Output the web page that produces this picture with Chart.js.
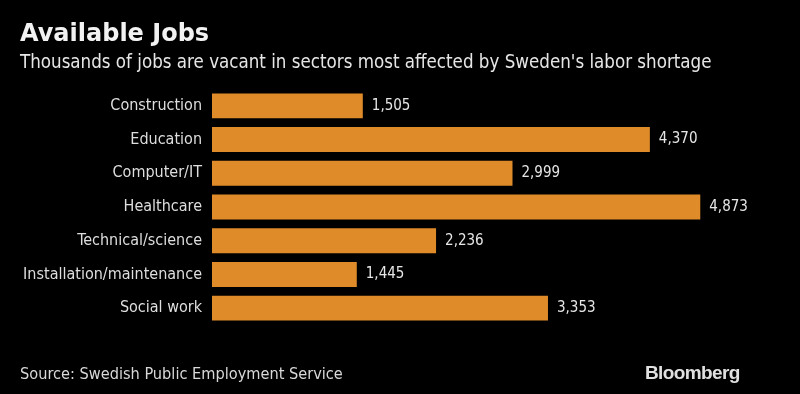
<!DOCTYPE html>
<html>
<head>
<meta charset="utf-8">
<script src="https://cdn.jsdelivr.net/npm/chart.js@4"></script>
<style>
  html, body { margin: 0; padding: 0; background: #000; }
  #wrap { position: relative; width: 800px; height: 394px; background: #000; overflow: hidden; }
  #chart { position: absolute; left: 0; top: 0; }
  .txt { position: absolute; color: #e6e6e6; white-space: nowrap; font-family: "DejaVu Sans Condensed", "DejaVu Sans", sans-serif; }
  #title { left: 20px; top: 19px; font-size: 24px; font-weight: bold; font-family: "DejaVu Sans", sans-serif; color: #f2f2f2; }
  #subtitle { left: 20px; top: 51px; font-size: 18.6px; }
  #source { left: 20px; top: 364px; font-size: 16.2px; color: #d8d8d8; }
  #logo { left: 645px; top: 362px; font-size: 19px; font-weight: bold; font-family: "Liberation Sans", Arial, sans-serif; color: #e0e0e0; letter-spacing: -0.6px; }
</style>
</head>
<body>
<div id="wrap">
  <canvas id="chart" width="800" height="394"></canvas>
  <div class="txt" id="title">Available Jobs</div>
  <div class="txt" id="subtitle">Thousands of jobs are vacant in sectors most affected by Sweden's labor shortage</div>
  <div class="txt" id="source">Source: Swedish Public Employment Service</div>
  <div class="txt" id="logo">Bloomberg</div>
</div>
<script>
//Data
const sectors = ['Construction', 'Education', 'Computer/IT', 'Healthcare', 'Technical/science', 'Installation/maintenance', 'Social work'];
const vacancies = [1505, 4370, 2999, 4873, 2236, 1445, 3353];

const labelFont = '"DejaVu Sans Condensed", "DejaVu Sans", sans-serif';

//Plugin to write values at end of bars
const valueLabels = {
  id: 'valueLabels',
  afterDatasetsDraw(chart) {
    const ctx = chart.ctx;
    const meta = chart.getDatasetMeta(0);
    ctx.save();
    ctx.fillStyle = '#e6e6e6';
    ctx.font = '15px ' + labelFont;
    ctx.textAlign = 'left';
    ctx.textBaseline = 'middle';
    meta.data.forEach((bar, i) => {
      ctx.fillText(vacancies[i].toLocaleString('en-US'), bar.x + 9, bar.y);
    });
    ctx.restore();
  }
};

const chart = new Chart(document.getElementById('chart'), {
  type: 'bar',
  data: {
    labels: sectors,
    datasets: [{
      data: vacancies,
      backgroundColor: '#e08b2a',
      borderWidth: 0,
      categoryPercentage: 1,
      barPercentage: 0.74
    }]
  },
  options: {
    indexAxis: 'y',
    responsive: false,
    animation: false,
    layout: { padding: { top: 89, bottom: 69, left: 0, right: 87 } },
    plugins: { legend: { display: false }, tooltip: { enabled: false } },
    scales: {
      x: { display: false, min: 0, max: 5000 },
      y: {
        grid: { display: false, drawTicks: false },
        border: { display: false },
        ticks: { color: '#dedede', padding: 10, font: { family: labelFont, size: 16 } },
        afterFit(scale) { scale.width = 212; }
      }
    }
  },
  plugins: [valueLabels]
});
</script>
</body>
</html>
